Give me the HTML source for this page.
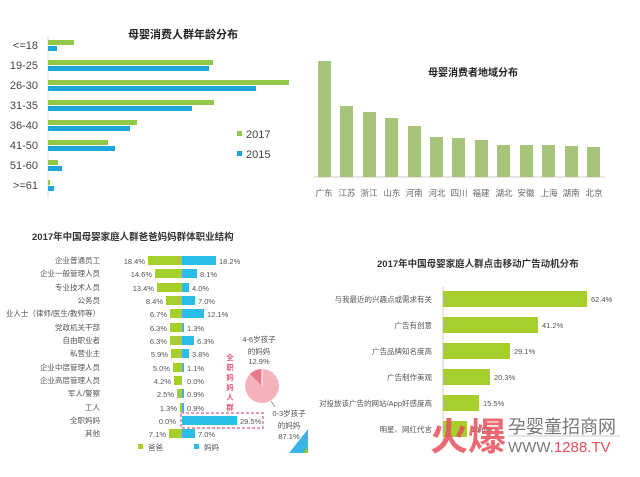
<!DOCTYPE html>
<html><head><meta charset="utf-8"><style>
html,body{margin:0;padding:0;background:#fff;}
svg{display:block;font-family:"Liberation Sans","Noto Sans CJK SC",sans-serif;}
</style></head><body>
<svg width="640" height="477" viewBox="0 0 640 477" xmlns="http://www.w3.org/2000/svg">
<rect width="640" height="477" fill="#fff"/>
<!-- Top-left chart -->
<text x="128" y="38" font-size="11" font-weight="bold" fill="#222">母婴消费人群年龄分布</text>
<line x1="48" y1="36" x2="48" y2="198" stroke="#ddd"/>
<g font-size="11" fill="#444" text-anchor="end">
<text x="38" y="49">&lt;=18</text><text x="38" y="69">19-25</text><text x="38" y="89">26-30</text><text x="38" y="109">31-35</text>
<text x="38" y="129">36-40</text><text x="38" y="149">41-50</text><text x="38" y="169">51-60</text><text x="38" y="189">&gt;=61</text>
</g>
<g fill="#92c84a">
<rect x="48" y="40" width="26" height="5"/><rect x="48" y="60" width="165" height="5"/><rect x="48" y="80" width="241" height="5"/><rect x="48" y="100" width="166" height="5"/>
<rect x="48" y="120" width="89" height="5"/><rect x="48" y="140" width="60" height="5"/><rect x="48" y="160" width="10" height="5"/><rect x="48" y="180" width="2" height="5"/>
</g>
<g fill="#1ea6dc">
<rect x="48" y="46" width="9" height="5"/><rect x="48" y="66" width="161" height="5"/><rect x="48" y="86" width="208" height="5"/><rect x="48" y="106" width="144" height="5"/>
<rect x="48" y="126" width="82" height="5"/><rect x="48" y="146" width="67" height="5"/><rect x="48" y="166" width="14" height="5"/><rect x="48" y="186" width="6" height="5"/>
</g>
<rect x="237" y="131" width="5" height="5" fill="#92c84a"/><text x="246" y="138" font-size="11" fill="#444">2017</text>
<rect x="237" y="151" width="5" height="5" fill="#1ea6dc"/><text x="246" y="158" font-size="11" fill="#444">2015</text>
<!-- Top-right chart -->
<text x="428" y="76" font-size="10" font-weight="bold" fill="#222">母婴消费者地域分布</text>
<line x1="314" y1="177" x2="605" y2="177" stroke="#ccc"/>
<g fill="#a8c47a">
<rect x="318" y="61" width="13" height="116"/><rect x="340" y="106" width="13" height="71"/><rect x="363" y="112" width="13" height="65"/><rect x="385" y="118" width="13" height="59"/>
<rect x="408" y="126" width="13" height="51"/><rect x="430" y="137" width="13" height="40"/><rect x="452" y="138" width="13" height="39"/><rect x="475" y="140" width="13" height="37"/>
<rect x="497" y="145" width="13" height="32"/><rect x="520" y="145" width="13" height="32"/><rect x="542" y="145" width="13" height="32"/><rect x="565" y="146" width="13" height="31"/><rect x="587" y="147" width="13" height="30"/>
</g>
<g font-size="8.5" fill="#666" text-anchor="middle">
<text x="324" y="196">广东</text><text x="347" y="196">江苏</text><text x="369" y="196">浙江</text><text x="392" y="196">山东</text><text x="414" y="196">河南</text><text x="437" y="196">河北</text><text x="459" y="196">四川</text><text x="481" y="196">福建</text><text x="504" y="196">湖北</text><text x="526" y="196">安徽</text><text x="549" y="196">上海</text><text x="571" y="196">湖南</text><text x="594" y="196">北京</text>
</g>
<!-- Bottom-left chart -->
<text x="32" y="240" font-size="9.5" font-weight="bold" fill="#333">2017年中国母婴家庭人群爸爸妈妈群体职业结构</text>
<g font-size="7.5" fill="#555">
<g text-anchor="end">
<text x="100" y="263">企业普通员工</text><text x="100" y="276">企业一般管理人员</text><text x="100" y="290">专业技术人员</text><text x="100" y="303">公务员</text>
<text x="100" y="316">业人士（律师/医生/教师等）</text><text x="100" y="330">党政机关干部</text><text x="100" y="343">自由职业者</text><text x="100" y="356">私营业主</text>
<text x="100" y="370">企业中层管理人员</text><text x="100" y="383">企业高层管理人员</text><text x="100" y="396">军人/警察</text><text x="100" y="410">工人</text><text x="100" y="423">全职妈妈</text><text x="100" y="436">其他</text>
</g>
</g>
<g fill="#a6cf2d">
<rect x="148" y="256" width="34" height="9"/><rect x="155" y="269" width="27" height="9"/><rect x="157" y="283" width="25" height="9"/><rect x="166" y="296" width="16" height="9"/>
<rect x="170" y="309" width="12" height="9"/><rect x="170" y="323" width="12" height="9"/><rect x="170" y="336" width="12" height="9"/><rect x="171" y="349" width="11" height="9"/>
<rect x="173" y="363" width="9" height="9"/><rect x="174" y="376" width="8" height="9"/><rect x="177" y="389" width="5" height="9"/><rect x="180" y="403" width="2" height="9"/><rect x="169" y="429" width="13" height="9"/>
</g>
<g fill="#29bde8">
<rect x="182" y="256" width="34" height="9"/><rect x="182" y="269" width="15" height="9"/><rect x="182" y="283" width="7" height="9"/><rect x="182" y="296" width="13" height="9"/>
<rect x="182" y="309" width="22" height="9"/><rect x="182" y="323" width="2" height="9"/><rect x="182" y="336" width="12" height="9"/><rect x="182" y="349" width="7" height="9"/>
<rect x="182" y="363" width="2" height="9"/><rect x="182" y="389" width="2" height="9"/><rect x="182" y="403" width="2" height="9"/><rect x="182" y="416" width="55" height="9"/><rect x="182" y="429" width="13" height="9"/>
</g>
<g font-size="7.5" fill="#555">
<g text-anchor="end">
<text x="145" y="264">18.4%</text><text x="152" y="277">14.6%</text><text x="154" y="291">13.4%</text><text x="163" y="304">8.4%</text>
<text x="167" y="317">6.7%</text><text x="167" y="331">6.3%</text><text x="167" y="344">6.3%</text><text x="168" y="357">5.9%</text>
<text x="170" y="371">5.0%</text><text x="171" y="384">4.2%</text><text x="174" y="397">2.5%</text><text x="177" y="411">1.3%</text><text x="176" y="424">0.0%</text><text x="166" y="437">7.1%</text>
</g>
<text x="219" y="264">18.2%</text><text x="200" y="277">8.1%</text><text x="192" y="291">4.0%</text><text x="198" y="304">7.0%</text>
<text x="207" y="317">12.1%</text><text x="187" y="331">1.3%</text><text x="197" y="344">6.3%</text><text x="192" y="357">3.8%</text>
<text x="187" y="371">1.1%</text><text x="187" y="384">0.0%</text><text x="187" y="397">0.9%</text><text x="187" y="411">0.9%</text><text x="240" y="424">29.5%</text><text x="198" y="437">7.0%</text>
</g>
<rect x="181" y="413" width="82" height="15" fill="none" stroke="#e07a95" stroke-width="1.5" stroke-dasharray="3,2"/>
<g font-size="7.5" fill="#e05a7a" font-weight="bold" text-anchor="middle">
<text x="230" y="360">全</text><text x="230" y="370">职</text><text x="230" y="380">妈</text><text x="230" y="390">妈</text><text x="230" y="400">人</text><text x="230" y="410">群</text>
</g>
<circle cx="262" cy="386" r="17" fill="#f5b3bd"/>
<path d="M262,386 L262,369 A17,17 0 0,0 250,374 Z" fill="#e87a88"/>
<line x1="262" y1="369" x2="262" y2="386" stroke="#fff"/>
<g font-size="7.5" fill="#555" text-anchor="middle">
<text x="259" y="342">4-6岁孩子</text><text x="259" y="354">的妈妈</text><text x="259" y="364">12.9%</text>
<text x="289" y="416">0-3岁孩子</text><text x="289" y="428">的妈妈</text><text x="289" y="439">87.1%</text>
</g>
<line x1="271" y1="401" x2="275" y2="407" stroke="#555" stroke-width="0.6"/>
<polygon points="289,453 308,429 308,453" fill="#3ab4e6"/>
<polygon points="303,453 308,446 308,453" fill="#8cc63f"/>
<rect x="138" y="444" width="5" height="5" fill="#a6cf2d"/><text x="148" y="450" font-size="7.5" fill="#555">爸爸</text>
<rect x="194" y="444" width="5" height="5" fill="#29bde8"/><text x="204" y="450" font-size="7.5" fill="#555">妈妈</text>
<!-- Bottom-right chart -->
<text x="377" y="267" font-size="9.5" font-weight="bold" fill="#333">2017年中国母婴家庭人群点击移动广告动机分布</text>
<line x1="443" y1="287" x2="443" y2="442" stroke="#ccc"/>
<g fill="#a6cf2d">
<rect x="443" y="291" width="144" height="16"/><rect x="443" y="317" width="95" height="16"/><rect x="443" y="343" width="67" height="16"/>
<rect x="443" y="369" width="47" height="16"/><rect x="443" y="395" width="36" height="16"/><rect x="443" y="421" width="24" height="16"/>
</g>
<g font-size="7.5" fill="#555">
<g text-anchor="end">
<text x="432" y="302">与我最近的兴趣点或需求有关</text><text x="432" y="328">广告有创意</text><text x="432" y="354">广告品牌知名度高</text>
<text x="432" y="380">广告制作美观</text><text x="432" y="406">对投放该广告的网站/App好感度高</text><text x="432" y="432">明星、网红代言</text>
</g>
<text x="591" y="302">62.4%</text><text x="542" y="328">41.2%</text><text x="514" y="354">29.1%</text><text x="494" y="380">20.3%</text><text x="483" y="406">15.5%</text><text x="471" y="432">10.6%</text>
</g>
<!-- watermark -->
<text x="430" y="450" font-size="38" font-weight="bold" fill="#e8505b" opacity="0.85" font-family="'Noto Sans CJK SC',sans-serif">火爆</text>
<text x="508" y="433" font-size="18" fill="#777" font-family="'Noto Sans CJK SC',sans-serif">孕婴童招商网</text>
<line x1="508" y1="436" x2="620" y2="436" stroke="#999" stroke-width="0.6"/>
<text x="508" y="452" font-size="15" fill="#777">WWW.<tspan fill="#e8505b">1288.TV</tspan></text>
</svg>
</body></html>
